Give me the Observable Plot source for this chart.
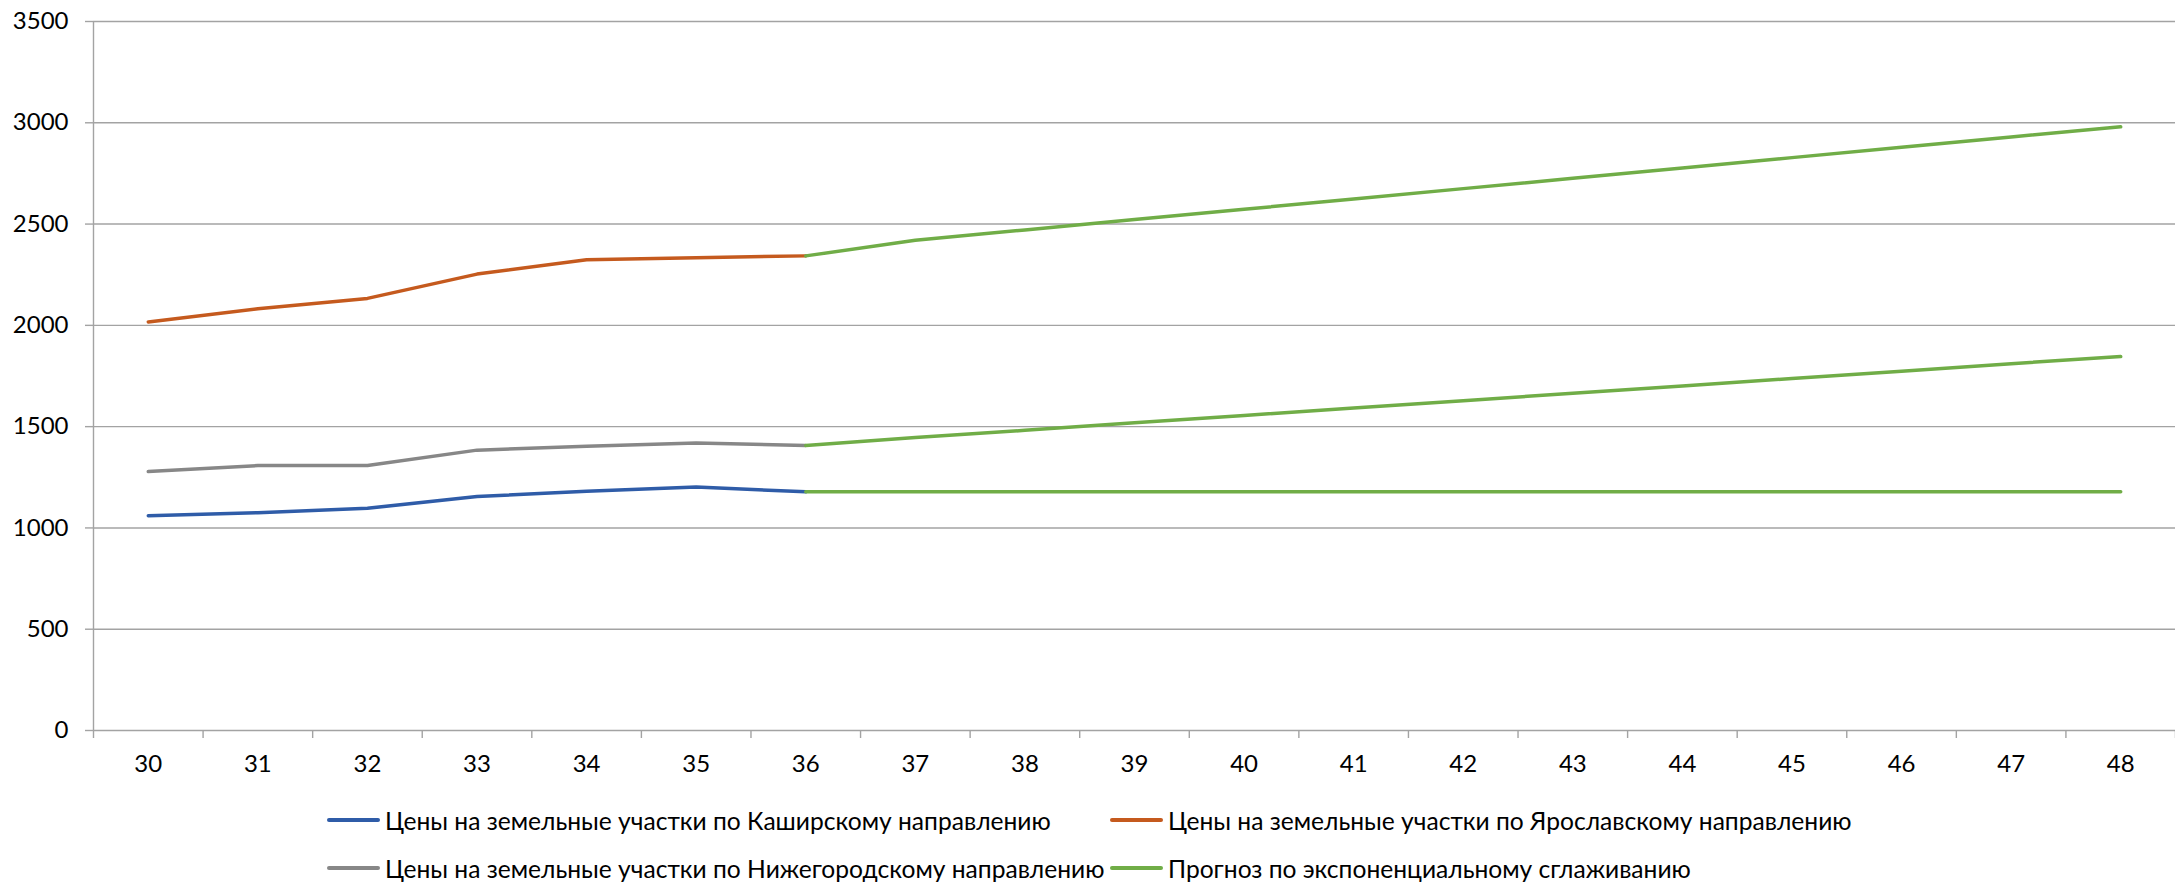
<!DOCTYPE html>
<html>
<head>
<meta charset="utf-8">
<script src="https://cdn.jsdelivr.net/npm/d3@7"></script>
<script src="https://cdn.jsdelivr.net/npm/@observablehq/plot@0.6"></script>
<style>
  body { margin: 0; background: #fff; font-family: Lato, "Noto Sans", sans-serif; }
  #chart { width: 2175px; }
  .legend {
    display: grid;
    grid-template-columns: 783px auto;
    grid-auto-rows: 48px;
    padding-left: 327px;
    margin-top: 6px;
    font-size: 24.6px;
    color: #000;
  }
  .legend .item { display: flex; align-items: center; white-space: nowrap; }
  .legend .swatch { width: 53px; height: 4px; border-radius: 2px; margin-right: 5px; flex: none; }
</style>
</head>
<body>
<div id="chart"></div>
<script>
// Periods on the category axis
const periods = [30, 31, 32, 33, 34, 35, 36, 37, 38, 39, 40, 41, 42, 43, 44, 45, 46, 47, 48];
const historyPeriods = [30, 31, 32, 33, 34, 35, 36];
const forecastPeriods = [36, 37, 38, 39, 40, 41, 42, 43, 44, 45, 46, 47, 48];

// Observed land prices by direction
const kashira = [1060, 1075, 1097, 1155, 1181, 1202, 1178];
const yaroslavl = [2017, 2082, 2133, 2253, 2324, 2334, 2343];
const nizhny = [1278, 1308, 1308, 1384, 1403, 1419, 1407];

// Exponential smoothing forecasts, continuing each series from period 36
const forecastKashira = [1178, 1179, 1179, 1179, 1179, 1179, 1179, 1179, 1179, 1179, 1179, 1179, 1179];
const forecastYaroslavl = [2343, 2420, 2471, 2522, 2573, 2624, 2675, 2726, 2777, 2828, 2879, 2930, 2980];
const forecastNizhny = [1407, 1446, 1482, 1519, 1555, 1592, 1628, 1665, 1701, 1738, 1774, 1811, 1846];

const yTicks = [0, 500, 1000, 1500, 2000, 2500, 3000, 3500];

const seriesNames = [
  "Цены на земельные участки по Каширскому направлению",
  "Цены на земельные участки по Ярославскому направлению",
  "Цены на земельные участки по Нижегородскому направлению",
  "Прогноз по экспоненциальному сглаживанию"
];
const seriesColors = ["#2f5ca8", "#c55a1e", "#878787", "#70ad47"];

const toRows = (xs, ys, series, group) => xs.map((x, i) => ({period: x, value: ys[i], series, group}));

const history = [
  ...toRows(historyPeriods, kashira, seriesNames[0], "k"),
  ...toRows(historyPeriods, yaroslavl, seriesNames[1], "y"),
  ...toRows(historyPeriods, nizhny, seriesNames[2], "n")
];
const forecast = [
  ...toRows(forecastPeriods, forecastKashira, seriesNames[3], "fk"),
  ...toRows(forecastPeriods, forecastYaroslavl, seriesNames[3], "fy"),
  ...toRows(forecastPeriods, forecastNizhny, seriesNames[3], "fn")
];

// Category boundaries, where the x-axis tick marks sit
const boundaries = [...periods.map(p => p - 0.5), periods[periods.length - 1] + 0.5];
const axisGray = "#a3a3a3";

const chart = Plot.plot({
  width: 2175,
  height: 790,
  marginLeft: 93,
  marginRight: 0,
  marginTop: 21,
  marginBottom: 60,
  style: {fontFamily: "Lato, 'Noto Sans', sans-serif", fontSize: "24px", color: "#000", background: "#fff"},
  x: {type: "linear", domain: [boundaries[0], boundaries[boundaries.length - 1]]},
  y: {domain: [0, 3500]},
  color: {domain: seriesNames, range: seriesColors},
  marks: [
    Plot.gridY(yTicks, {stroke: axisGray, strokeOpacity: 1, strokeWidth: 1.4}),
    Plot.ruleX([boundaries[0]], {stroke: axisGray, strokeWidth: 1.4}),
    Plot.axisY(yTicks, {tickSize: 8, tickPadding: 17, stroke: axisGray, strokeWidth: 1.4, fill: "#000", tickFormat: d => String(d), label: null}),
    Plot.axisX(boundaries, {tickSize: 8, stroke: axisGray, strokeWidth: 1.4, tickFormat: () => "", label: null}),
    Plot.axisX(periods, {tickSize: 0, tickPadding: 24, fill: "#000", tickFormat: d => String(d), label: null}),
    Plot.line(history, {x: "period", y: "value", z: "group", stroke: "series", strokeWidth: 3.5, strokeLinecap: "round", strokeLinejoin: "round"}),
    Plot.line(forecast, {x: "period", y: "value", z: "group", stroke: "series", strokeWidth: 3.5, strokeLinecap: "round", strokeLinejoin: "round"})
  ]
});

const root = document.getElementById("chart");
root.appendChild(chart);

// Legend below the plot: two columns, filled row by row
const legend = document.createElement("div");
legend.className = "legend";
seriesNames.forEach((name, i) => {
  const item = document.createElement("div");
  item.className = "item";
  const sw = document.createElement("span");
  sw.className = "swatch";
  sw.style.background = seriesColors[i];
  const label = document.createElement("span");
  label.textContent = name;
  item.append(sw, label);
  legend.appendChild(item);
});
root.appendChild(legend);
</script>
</body>
</html>
